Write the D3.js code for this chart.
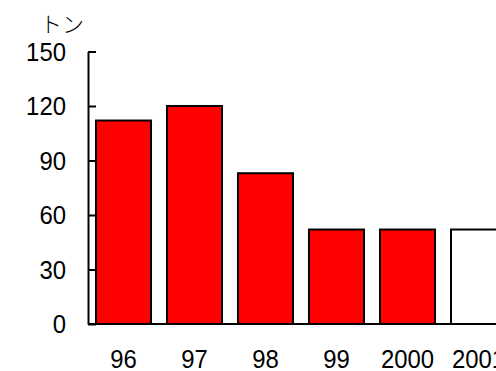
<!DOCTYPE html>
<html>
<head>
<meta charset="utf-8">
<script src="https://cdn.jsdelivr.net/npm/d3@7"></script>
<style>
  html, body { margin: 0; padding: 0; background: #fff; overflow: hidden; }
  svg { display: block; }
  text { font-family: "Liberation Sans", Arial, sans-serif; fill: #000; }
</style>
</head>
<body>
<svg id="chart" width="496" height="371"></svg>
<script>
// Annual volume (tons); the final year is shown as an unfilled bar
const years = ["96", "97", "98", "99", "2000", "2001"];
const tons = [112, 120, 83, 52, 52, 52];
const fills = ["#ff0000", "#ff0000", "#ff0000", "#ff0000", "#ff0000", "#ffffff"];
const yTicks = [0, 30, 60, 90, 120, 150];
const unitLabel = "トン";

const svg = d3.select("#chart");
const x0 = 88, yBottom = 324, yTop = 51.5;
const narrow = 0.92; // horizontal squeeze for the tall, narrow digits

const x = d3.scaleBand()
  .domain(years)
  .range([x0, x0 + 71 * years.length])
  .paddingInner(0.225)
  .paddingOuter(0.1125);

const y = d3.scaleLinear().domain([0, 150]).range([yBottom, yTop]);

// bars
svg.append("g")
  .selectAll("rect")
  .data(years)
  .join("rect")
  .attr("x", d => x(d))
  .attr("y", (d, i) => y(tons[i]))
  .attr("width", x.bandwidth())
  .attr("height", (d, i) => yBottom - y(tons[i]))
  .attr("fill", (d, i) => fills[i])
  .attr("stroke", "#000")
  .attr("stroke-width", 2);

// y axis: ticks point inward, labels on the left
const yAxis = d3.axisRight(y).tickValues(yTicks).tickSize(8).tickSizeOuter(0).tickFormat("");
const gy = svg.append("g").attr("transform", `translate(${x0},0)`).call(yAxis);
gy.select(".domain").attr("stroke", "#000").attr("stroke-width", 2);
gy.selectAll(".tick line").attr("stroke", "#000").attr("stroke-width", 2);

svg.append("g")
  .selectAll("text")
  .data(yTicks)
  .join("text")
  .attr("transform", d => `translate(66,${y(d)}) scale(${narrow},1)`)
  .attr("dy", "0.35em")
  .attr("text-anchor", "end")
  .attr("font-size", 26)
  .text(d => d);

// x baseline
svg.append("line")
  .attr("x1", x0).attr("x2", 496)
  .attr("y1", yBottom).attr("y2", yBottom)
  .attr("stroke", "#000").attr("stroke-width", 2);

// category labels
svg.append("g")
  .selectAll("text")
  .data(years)
  .join("text")
  .attr("transform", d => `translate(${x(d) + x.bandwidth() / 2},359) scale(${narrow},1)`)
  .attr("dy", "0.35em")
  .attr("text-anchor", "middle")
  .attr("font-size", 26)
  .text(d => d);

// unit label
svg.append("text")
  .attr("x", 62)
  .attr("y", 24)
  .attr("dy", "0.35em")
  .attr("text-anchor", "middle")
  .attr("font-size", 22)
  .style("font-family", "'Noto Sans CJK JP', sans-serif")
  .style("font-weight", 300)
  .text(unitLabel);
</script>
</body>
</html>
